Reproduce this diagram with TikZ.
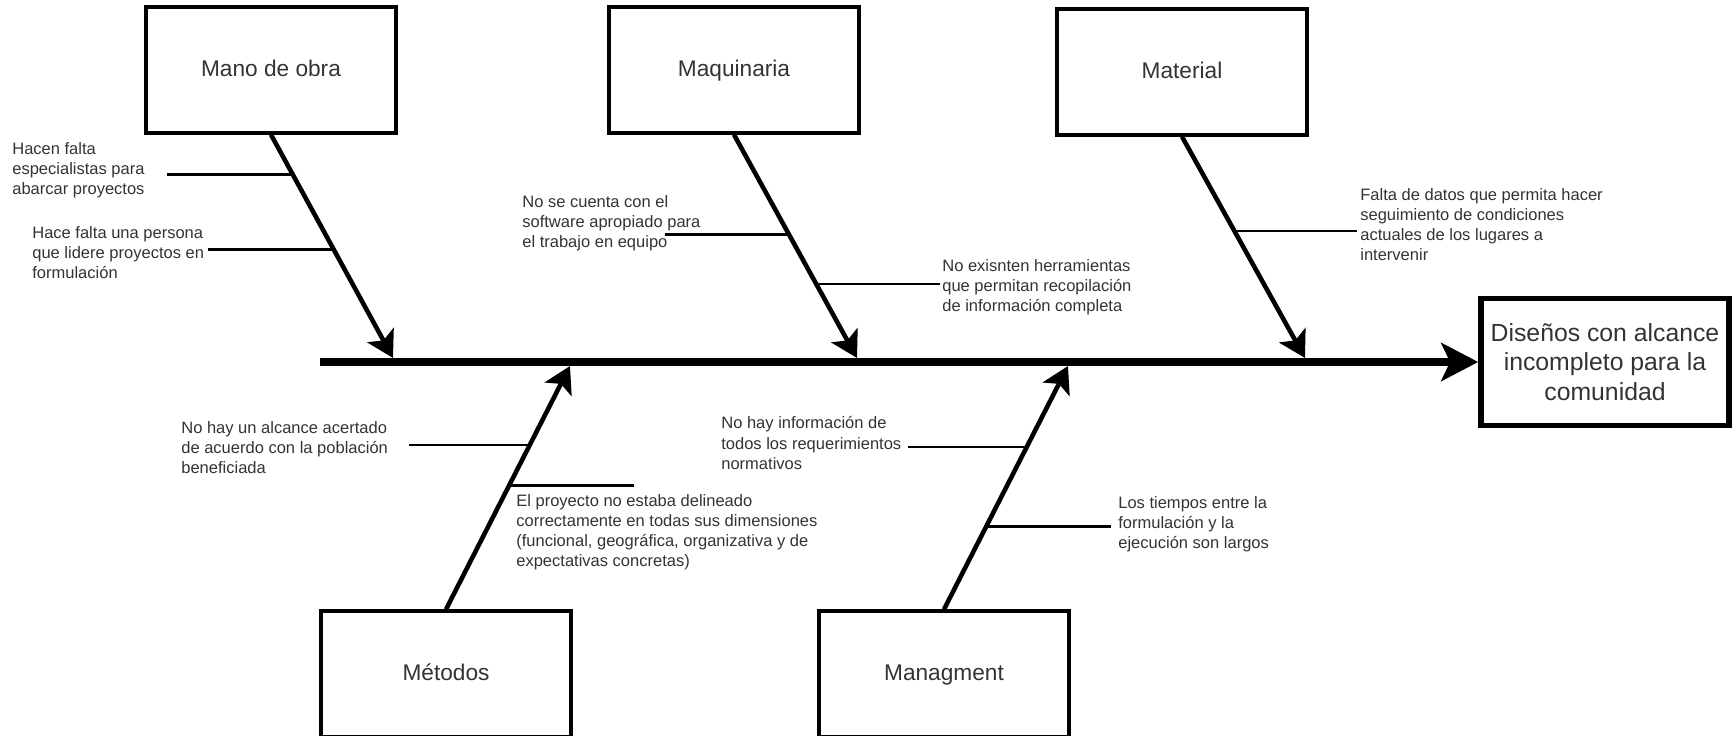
\documentclass[tikz,border=0pt]{standalone}
\usepackage{fontspec}
\setmainfont{Liberation Sans}
\usetikzlibrary{arrows.meta,calc}

\begin{document}
\begin{tikzpicture}[x=0.02cm,y=-0.02cm,
		causa/.style={draw, line width=1.9pt, minimum width=5cm, minimum height=2.52cm, text height=9.4pt, text depth=2.4pt, text=black!80, font=\fontsize{12.9pt}{15pt}\selectfont},
		efecto/.style={draw, line width=3.2pt, minimum width=4.96cm, minimum height=2.54cm, align=center, text=black!80, font=\fontsize{14.1pt}{16.8pt}\selectfont},
		nota/.style={anchor=west, align=left, inner sep=0pt, text=black!80, font=\fontsize{9.4pt}{11.4pt}\selectfont},
		espina/.style={line width=2.6pt, -{Stealth[length=14.8pt,width=17pt,inset=3.4pt]}},
		rama/.style={line width=1.5pt}]
	\useasboundingbox (0,0) rectangle (1732,735);

	% cajas de causas y efecto
	\node[causa] (mano) at (271,70) {Mano de obra};
	\node[causa] (maq) at (734,70) {Maquinaria};
	\node[causa] (mat) at (1182,72) {Material};
	\node[causa] (met) at (446,674) {Métodos};
	\node[causa] (man) at (944,674) {Managment};
	\node[efecto] (efecto) at (1605,362) {Diseños con alcance\\incompleto para la\\comunidad};

	% eje principal
	\coordinate (inicio) at (320,362);
	\draw[line width=4.3pt, -{Stealth[length=21pt,width=21.6pt,inset=5pt]}] (inicio) -- (efecto.west);

	% espinas
	\coordinate (tmano) at (393,358);
	\coordinate (tmaq) at (857,358);
	\coordinate (tmat) at (1305,358);
	\coordinate (tmet) at (570,366);
	\coordinate (tman) at (1068,366);
	\foreach \c/\a in {mano/south, maq/south, mat/south, met/north, man/north} {
		\draw[espina] (\c.\a) -- (t\c);
	}

	% ramas
	\foreach \n/\a/\b/\t/\x in {1/mano.south/tmano/0.179/167, 2/mano.south/tmano/0.513/208,
			3/maq.south/tmaq/0.448/665, 4/maq.south/tmaq/0.668/940, 5/mat.south/tmat/0.426/1357,
			6/met.north/tmet/0.675/409, 7/met.north/tmet/0.508/634,
			8/man.north/tman/0.667/908, 9/man.north/tman/0.341/1111} {
		\coordinate (e\n) at (\x,0);
		\draw[rama] ($(\a)!\t!(\b)$) coordinate (b\n) -- (b\n -| e\n);
	}

	% textos
	\node[nota] (n1) at (12,170) {Hacen falta\\especialistas para\\abarcar proyectos};
	\node[nota] (n2) at (32,253) {Hace falta una persona\\que lidere proyectos en\\formulación};
	\node[nota] (n3) at (522,223) {No se cuenta con el\\software apropiado para\\el trabajo en equipo};
	\node[nota] (n4) at (942,287) {No exisnten herramientas\\que permitan recopilación\\de información completa};
	\node[nota] (n5) at (1360,225) {Falta de datos que permita hacer\\seguimiento de condiciones\\actuales de los lugares a\\intervenir};
	\node[nota] (n6) at (181,448) {No hay un alcance acertado\\de acuerdo con la población\\beneficiada};
	\node[nota] (n7) at (516,532) {El proyecto no estaba delineado\\correctamente en todas sus dimensiones\\(funcional, geográfica, organizativa y de\\expectativas concretas)};
	\node[nota] (n8) at (721,443) {No hay información de\\todos los requerimientos\\normativos};
	\node[nota] (n9) at (1118,524) {Los tiempos entre la\\formulación y la\\ejecución son largos};
\end{tikzpicture}
\end{document}
